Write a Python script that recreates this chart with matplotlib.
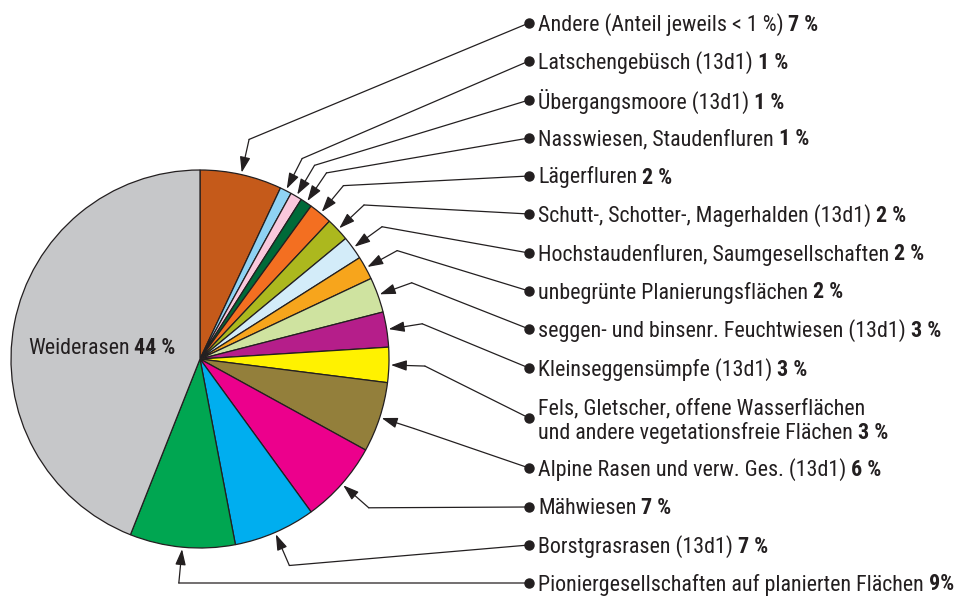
import numpy as np
import matplotlib.pyplot as plt
from matplotlib import font_manager

# Flächenanteile der Biotoptypen, im Uhrzeigersinn ab 12 Uhr
names = [
    "Andere (Anteil jeweils < 1 %)",
    "Latschengebüsch (13d1)",
    "Übergangsmoore (13d1)",
    "Nasswiesen, Staudenfluren",
    "Lägerfluren",
    "Schutt-, Schotter-, Magerhalden (13d1)",
    "Hochstaudenfluren, Saumgesellschaften",
    "unbegrünte Planierungsflächen",
    "seggen- und binsenr. Feuchtwiesen (13d1)",
    "Kleinseggensümpfe (13d1)",
    "Fels, Gletscher, offene Wasserflächen\nund andere vegetationsfreie Flächen",
    "Alpine Rasen und verw. Ges. (13d1)",
    "Mähwiesen",
    "Borstgrasrasen (13d1)",
    "Pioniergesellschaften auf planierten Flächen",
    "Weiderasen",
]
values = [7, 1, 1, 1, 2, 2, 2, 2, 3, 3, 3, 6, 7, 7, 9, 44]
value_text = ["7 %", "1 %", "1 %", "1 %", "2 %", "2 %", "2 %", "2 %", "3 %",
              "3 %", "3 %", "6 %", "7 %", "7 %", "9%", "44 %"]
colors = ["#c55a1a", "#8fd3f4", "#f9c8dc", "#006a39", "#f36f21", "#acb81e",
          "#d3ecf9", "#f7a51c", "#cfe3a0", "#b51e8a", "#fff200", "#937f3b",
          "#ec008c", "#00aeef", "#00a651", "#c6c7c9"]

# Lage der Beschriftungspunkte rechts (Pixel von oben)
label_y = [23, 61, 100, 138, 176, 214, 253, 291, 329, 368, 418, 468, 507, 545, 583]
label_x = 529

ink = "#231f20"
available = {f.name for f in font_manager.fontManager.ttflist}
family = next(c for c in ["Liberation Sans Narrow", "Roboto Condensed",
                          "DejaVu Sans Condensed", "Liberation Sans", "DejaVu Sans"]
              if c in available)
plt.rcParams["font.family"] = [family, "DejaVu Sans"]
fs = 15.8

W, H = 960, 596
fig = plt.figure(figsize=(W / 100, H / 100), dpi=100)
ax = fig.add_axes([0, 0, 1, 1])

cx, cy, R = 200, 359, 189
# y-Achse zeigt nach unten, daher counterclock=True -> optisch im Uhrzeigersinn
ax.pie(values, colors=colors, startangle=-90, counterclock=True,
       center=(cx, cy), radius=R,
       wedgeprops=dict(edgecolor=ink, linewidth=0.9))
ax.set_xlim(0, W)
ax.set_ylim(H, 0)
ax.set_aspect("equal")
ax.axis("off")


def rich_label(x, y, plain, bold, ha="left"):
    t = ax.text(x, y, plain, fontsize=fs, color=ink, va="center", ha=ha)
    ax.annotate(bold, xy=(1, 0), xycoords=t, va="bottom", ha="left",
                xytext=(3.5, 0), textcoords="offset points",
                fontsize=fs, fontweight="bold", color=ink)
    return t


# Winkel der Segmentmitten (ab 12 Uhr im Uhrzeigersinn)
frac = np.array(values) / np.sum(values)
mid = (np.cumsum(frac) - frac / 2) * 2 * np.pi


def at(phi, r):
    return cx + r * np.sin(phi), cy - r * np.cos(phi)


for i in range(15):
    y = label_y[i]
    tip = at(mid[i], R + 2)
    elbow = at(mid[i], R + 36)
    ax.plot([label_x, elbow[0]], [y, elbow[1]], color=ink, lw=0.9,
            solid_capstyle="round")
    ax.plot([label_x], [y], "o", color=ink, ms=6.5)
    ax.annotate("", xy=tip, xytext=elbow,
                arrowprops=dict(arrowstyle="-|>,head_length=0.6,head_width=0.2",
                                color=ink, lw=0.9, shrinkA=0, shrinkB=0,
                                mutation_scale=16))
    lines = names[i].split("\n")
    n = len(lines)
    for k, line in enumerate(lines):
        ly = y + 1.5 + (k - (n - 1) / 2) * 23.5 + (1.5 if n > 1 else 0)
        if k < n - 1:
            ax.text(label_x + 9, ly, line, fontsize=fs, color=ink, va="center")
        else:
            rich_label(label_x + 9, ly, line, value_text[i])

# Beschriftung im größten Segment
rich_label(28, 348, names[-1], value_text[-1])

fig.savefig("out.png", dpi=100)
